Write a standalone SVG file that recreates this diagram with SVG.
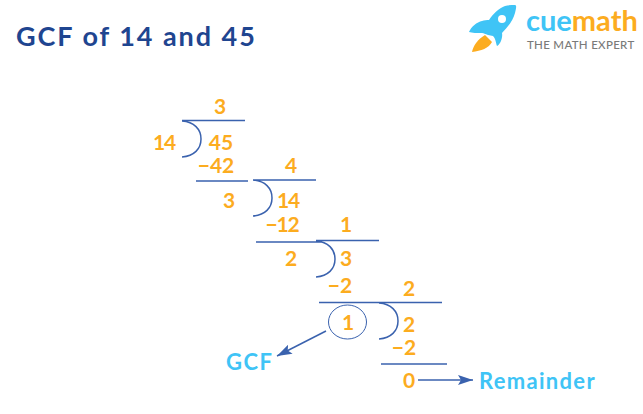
<svg xmlns="http://www.w3.org/2000/svg" width="643" height="414" viewBox="0 0 643 414">
<style>
text{font-family:"Lato","Noto Sans",sans-serif}
.n{font-size:21px;fill:#fcac1f;font-weight:700;text-anchor:middle}
.t{letter-spacing:-1.2px}
.l{font-size:22px;fill:#3fc4f6;font-weight:700}
.r{stroke:#3a62ae;stroke-width:1.5;fill:none}
</style>
<defs>
<marker id="a" markerWidth="16" markerHeight="10" refX="15" refY="5" orient="auto" markerUnits="userSpaceOnUse"><path d="M0 0L15 5L0 10L3 5Z" fill="#3a62ae"/></marker>
</defs>
<rect width="643" height="414" fill="#fff"/>
<g id="title"><text x="16" y="46" font-size="27" font-weight="700" fill="#1f4590" letter-spacing="1.95">GCF of 14 and 45</text></g>
<g id="logo">
<path d="M515 5C517 5 516 9 515 13C513 21 507 28 502 33C503 38 500 45 497 46C496 44 496 39 493 36L488 35C485 34 484 33 482 33C477 33 472 33 469 32C471 27 477 22 482 21C484 20 487 20 489 20C493 14 499 8 505 6C508 5 512 5 515 5Z" fill="#3fc4f6"/>
<circle cx="502" cy="19" r="4" fill="#fff"/>
<path d="M485 35L492 42C489 48 481 51 472 52C473 46 478 39 485 35Z" fill="#fcac1f"/>
<text x="526" y="31" font-size="29" font-weight="700" fill="#3fc4f6">cue<tspan fill="#fcac1f">math</tspan></text>
<text x="527" y="49" font-size="11.5" font-weight="500" fill="#7a7a7a" letter-spacing=".3">THE MATH EXPERT</text>
</g>
<g id="step1">
<text class="n" x="220" y="114">3</text>
<text class="n t" x="164" y="150">14</text>
<text class="n" x="221" y="150">45</text>
<text class="n" x="216" y="173">−42</text>
<text class="n" x="229" y="208">3</text>
</g>
<g id="step2">
<text class="n" x="291" y="173">4</text>
<text class="n t" x="288" y="208">14</text>
<text class="n t" x="282" y="232">−12</text>
<text class="n" x="291" y="266">2</text>
</g>
<g id="step3">
<text class="n" x="346" y="232">1</text>
<text class="n" x="346" y="266">3</text>
<text class="n" x="340" y="293">−2</text>
</g>
<g id="step4">
<text class="n" x="409" y="296">2</text>
<text class="n" x="409" y="332">2</text>
<text class="n" x="404" y="355">−2</text>
<text class="n" x="409" y="388">0</text>
</g>
<g id="gcf-node">
<ellipse cx="347.5" cy="322" rx="19" ry="17" fill="none" stroke="#3a62ae" stroke-width="1"/>
<text class="n" x="348" y="330">1</text>
</g>
<g id="gcf-label"><text class="l" x="226" y="370" letter-spacing="1.5">GCF</text></g>
<g id="remainder-label"><text class="l" x="479" y="389" letter-spacing="1.3">Remainder</text></g>
<g id="connectors">
<path class="r" d="M182 120.5H245M182 121C194 122 201 129 201 139C201 149 194 156 182 157"/>
<path class="r" d="M196 181H248M253 180H316M253 180C265 181 272 188 272 198C272 208 265 215 253 216"/>
<path class="r" d="M256 242H322M316 240.5H379M316 241C328 242 335 249 335 259C335 269 328 276 316 277"/>
<path class="r" d="M319 302.5H442M379 303C391 304 398 311 398 321C398 331 391 338 379 339"/>
<path class="r" d="M381 364H447"/>
<path class="r" d="M326 331L277 356" marker-end="url(#a)"/>
<path class="r" d="M418 380H473" marker-end="url(#a)"/>
</g>
</svg>
